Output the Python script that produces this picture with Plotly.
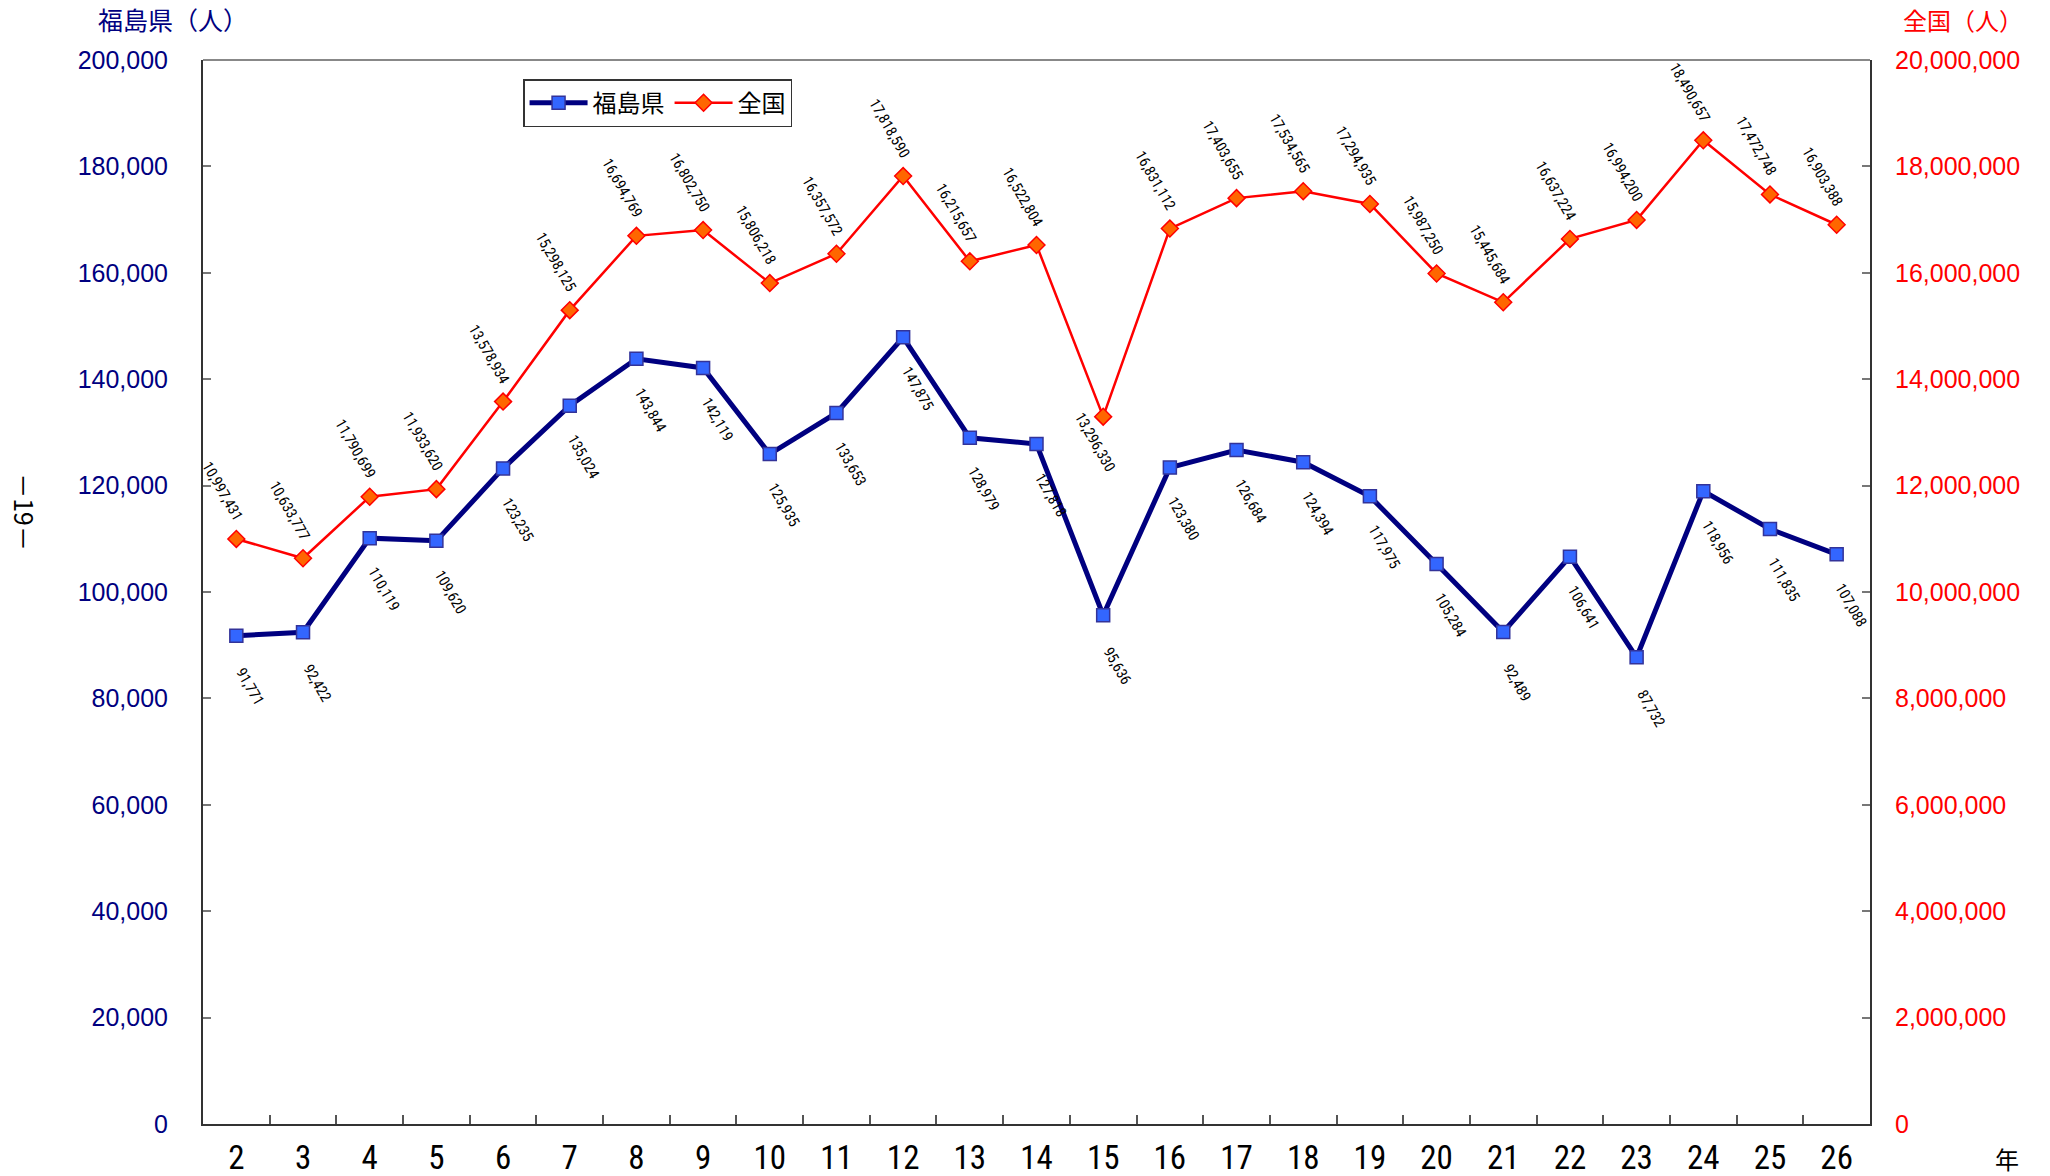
import plotly.graph_objects as go

years = ["2", "3", "4", "5", "6", "7", "8", "9", "10", "11", "12", "13", "14",
         "15", "16", "17", "18", "19", "20", "21", "22", "23", "24", "25", "26"]
fukushima = [91771, 92422, 110119, 109620, 123235, 135024, 143844, 142119, 125935,
             133653, 147875, 128979, 127818, 95636, 123380, 126684, 124394, 117975,
             105284, 92489, 106641, 87732, 118956, 111835, 107088]
national = [10997431, 10633777, 11790699, 11933620, 13578934, 15298125, 16694769,
            16802750, 15806218, 16357572, 17818590, 16215657, 16522804, 13296330,
            16831112, 17403655, 17534565, 17294935, 15987250, 15445684, 16637224,
            16994200, 18490657, 17472748, 16903388]
national_label_below = {"15"}

NARROW = "Liberation Sans Narrow, Arial Narrow, Roboto Condensed, sans-serif"
SANS = "Liberation Sans, Arial, sans-serif"
CJK = "Noto Sans CJK JP, sans-serif"
NAVY = "#000080"
RED = "#FF0000"

fig = go.Figure()
fig.add_trace(go.Scatter(
    x=years, y=fukushima, name="福島県", mode="lines+markers",
    line=dict(color=NAVY, width=5),
    marker=dict(symbol="square", size=13, color="#3366FF",
                line=dict(color="#333399", width=1.5)),
    yaxis="y"))
fig.add_trace(go.Scatter(
    x=years, y=national, name="全国", mode="lines+markers",
    line=dict(color=RED, width=2.5),
    marker=dict(symbol="diamond", size=13, color="#FF6600",
                line=dict(color=RED, width=1.5)),
    yaxis="y2"))

ann = []
for i, v in enumerate(fukushima):
    ann.append(dict(x=i, y=v, xref="x", yref="y", text=f"{v:,}", showarrow=False,
                    textangle=60, xshift=14, yshift=-51,
                    font=dict(family=NARROW, size=15, color="black")))
for i, (c, v) in enumerate(zip(years, national)):
    below = c in national_label_below
    ann.append(dict(x=i, y=v, xref="x", yref="y2", text=f"{v:,}", showarrow=False,
                    textangle=60, xshift=-8 if below else -14, yshift=-25 if below else 48,
                    font=dict(family=NARROW, size=15, color="black")))

ann += [
    dict(xref="paper", yref="paper", x=0, xshift=-30, y=1.0, yshift=41, xanchor="center",
         yanchor="middle", text="福島県（人）", showarrow=False,
         font=dict(family=CJK, size=25, color=NAVY)),
    dict(xref="paper", yref="paper", x=1.0, xshift=155, y=1.0, yshift=41, xanchor="right",
         yanchor="middle", text="全国（人）", showarrow=False,
         font=dict(family=CJK, size=24, color=RED)),
    dict(xref="paper", yref="paper", x=1.0, xshift=137, y=0, yshift=-34, xanchor="center",
         yanchor="middle", text="年", showarrow=False,
         font=dict(family=CJK, size=24, color="black")),
    dict(xref="paper", yref="paper", x=0, xshift=-178, y=0.575, xanchor="center",
         yanchor="middle", text="－19－", showarrow=False, textangle=90,
         font=dict(family=CJK, size=25, color="black")),
]

fig.update_layout(
    width=2050, height=1176,
    margin=dict(l=203, r=180, t=60, b=52),
    paper_bgcolor="white", plot_bgcolor="white",
    showlegend=True,
    legend=dict(x=0.192, y=0.982, xanchor="left", yanchor="top", orientation="h",
                bgcolor="white", bordercolor="#333333", borderwidth=1.5,
                itemwidth=58,
                font=dict(family=CJK, size=24, color="black")),
    xaxis=dict(type="category", categoryorder="array", categoryarray=years,
               range=[-0.5, 24.5], showgrid=False, zeroline=False, automargin=False,
               showline=True, linecolor="#333333", linewidth=2, mirror=False,
               ticks="inside", tickson="boundaries", ticklen=9, tickcolor="#555555",
               tickwidth=1.5, ticklabelstandoff=3,
               tickfont=dict(family=NARROW, size=33, color="black")),
    yaxis=dict(range=[0, 200000], dtick=20000, tickformat=",d", showgrid=False,
               zeroline=False, showline=True, linecolor="#333333", linewidth=2,
               automargin=False,
               ticks="inside", ticklen=8, tickcolor="#777777", tickwidth=1.5,
               ticklabelstandoff=28,
               tickfont=dict(family=SANS, size=25, color=NAVY)),
    yaxis2=dict(range=[0, 20000000], dtick=2000000, tickformat=",d", showgrid=False,
                zeroline=False, overlaying="y", side="right", showline=True,
                linecolor="#333333", linewidth=2, automargin=False,
                ticks="inside", ticklen=8, tickcolor="#777777", tickwidth=1.5,
                ticklabelstandoff=18,
                tickfont=dict(family=SANS, size=25, color=RED)),
    annotations=ann,
    shapes=[dict(type="line", xref="paper", yref="paper", x0=0, x1=1, y0=1, y1=1,
                 line=dict(color="#888888", width=2))],
)

fig.write_html("out.html", config={"displayModeBar": False},
               post_script="document.body.style.margin='0';document.body.style.overflow='hidden';")
